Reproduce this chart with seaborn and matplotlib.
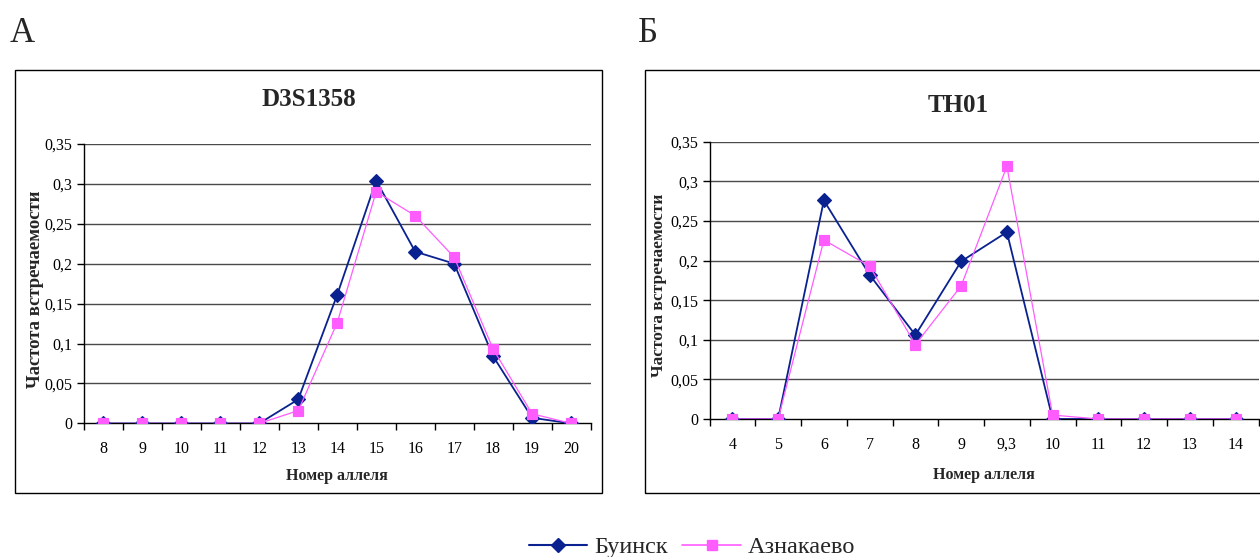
import numpy as np
import pandas as pd
import matplotlib
matplotlib.use("Agg")
import matplotlib.pyplot as plt
from matplotlib.patches import Rectangle
from matplotlib.lines import Line2D
from matplotlib.ticker import FixedLocator, FuncFormatter
import seaborn as sns

# ---- data ----
series_names = ["Буинск", "Азнакаево"]

d3_alleles = ["8", "9", "10", "11", "12", "13", "14", "15", "16", "17", "18", "19", "20"]
d3_buinsk = [0, 0, 0, 0, 0, 0.030, 0.161, 0.304, 0.215, 0.200, 0.084, 0.007, 0]
d3_aznak = [0, 0, 0, 0, 0, 0.016, 0.126, 0.290, 0.260, 0.208, 0.093, 0.012, 0]

th_alleles = ["4", "5", "6", "7", "8", "9", "9,3", "10", "11", "12", "13", "14"]
th_buinsk = [0, 0, 0.276, 0.182, 0.106, 0.199, 0.236, 0, 0, 0, 0, 0]
th_aznak = [0, 0, 0.226, 0.193, 0.094, 0.168, 0.319, 0.005, 0, 0, 0, 0]

titles = ["D3S1358", "TH01"]
panel_labels = ["А", "Б"]
ylabel_text = "Частота встречаемости"
xlabel_text = "Номер аллеля"
yticks = [0, 0.05, 0.1, 0.15, 0.2, 0.25, 0.3, 0.35]

colors = {"Буинск": "#0A2190", "Азнакаево": "#FF5CFF"}

sns.set_theme(style="white")
plt.rcParams["font.family"] = ["Liberation Serif", "DejaVu Serif"]

W, H = 1260, 557
fig = plt.figure(figsize=(W / 100, H / 100), dpi=100)

def fx(px):
    return px / W

def fy(py):
    return 1 - py / H

# frames
for (x0, x1) in [(15, 602), (645, 1272)]:
    fig.patches.append(Rectangle((fx(x0), fy(493)), fx(x1 - x0), (493 - 70) / H,
                                 transform=fig.transFigure, fill=False,
                                 edgecolor="black", linewidth=1.0, zorder=0))

axes_px = [(83.8, 590.6, 143.8, 423.4), (709.5, 1258.5, 141.8, 419.0)]
frame_centers = [308.5, 958]
title_y = [100, 106]
panel_x = [10, 638]
ylabel_sizes = [13.5, 12.5]

datasets = [(d3_alleles, d3_buinsk, d3_aznak), (th_alleles, th_buinsk, th_aznak)]

for i, ((alle, b, a), (l, r, t, bt)) in enumerate(zip(datasets, axes_px)):
    ax = fig.add_axes([fx(l), fy(bt), (r - l) / W, (bt - t) / H])
    df = pd.DataFrame({
        "allele": alle * 2,
        "freq": b + a,
        "pop": [series_names[0]] * len(alle) + [series_names[1]] * len(alle),
    })
    sns.pointplot(data=df, x="allele", y="freq", hue="pop", order=alle,
                  hue_order=series_names, palette=colors,
                  markers=["D", "s"], linestyles=["-", "-"],
                  errorbar=None, dodge=False, ax=ax,
                  markersize=6, linewidth=1.1)
    for ln in ax.lines:
        c = matplotlib.colors.to_hex(ln.get_color()).lower()
        if c == colors["Азнакаево"].lower():
            ln.set_linewidth(0.9)
            ln.set_markersize(6.6)
            ln.set_zorder(4)
        else:
            ln.set_linewidth(1.3)
            ln.set_markersize(6.8)
            ln.set_zorder(3)
    if ax.get_legend() is not None:
        ax.get_legend().remove()
    n = len(alle)
    ax.set_xlim(-0.5, n - 0.5)
    ax.set_ylim(0, 0.35)
    ax.set_yticks(yticks)
    ax.yaxis.set_major_formatter(FuncFormatter(lambda v, p: ("%g" % round(v, 2)).replace(".", ",")))
    ax.grid(False)
    for yv in yticks[1:]:
        ax.axhline(yv, color="#4a4a4a", linewidth=1.0, zorder=1)
    ax.xaxis.set_minor_locator(FixedLocator(np.arange(-0.5, n, 1.0)))
    ax.tick_params(axis="x", which="major", length=0, labelsize=11.5, pad=13, colors="black")
    ax.tick_params(axis="x", which="minor", length=5, width=1, direction="out", bottom=True, color="black")
    ax.tick_params(axis="y", which="major", length=5, width=1, direction="out", left=True,
                   labelsize=11.5, pad=3, colors="black")
    for s in ["top", "right"]:
        ax.spines[s].set_visible(False)
    for s in ["left", "bottom"]:
        ax.spines[s].set_color("black")
        ax.spines[s].set_linewidth(1.0)
    ax.set_facecolor("none")
    ax.set_xlabel(xlabel_text, fontsize=11.5, fontweight="bold")
    ax.set_ylabel(ylabel_text, fontsize=ylabel_sizes[i], fontweight="bold")
    h = bt - t
    w = r - l
    lx = [35.6, 659][i]
    ly = [289.5, 285][i]
    ax.yaxis.set_label_coords((lx - l) / w, (bt - ly) / h)
    ax.xaxis.set_label_coords(0.5, (bt - [476, 475][i]) / h)
    ax.xaxis.label.set_va("center")
    ax.yaxis.label.set_va("center")
    fig.text(fx(frame_centers[i]), fy(title_y[i]), titles[i], ha="center", va="center",
             fontsize=18, fontweight="bold")
    fig.text(fx(panel_x[i]), fy(33), panel_labels[i], ha="left", va="center", fontsize=25)

# legend
handles = [Line2D([], [], color=colors["Буинск"], marker="D", markersize=7, linewidth=1.5),
           Line2D([], [], color=colors["Азнакаево"], marker="s", markersize=7, linewidth=1.2)]
fig.legend(handles, series_names, loc="center", bbox_to_anchor=(fx(692), fy(547)),
           ncol=2, frameon=False, fontsize=17.5, handlelength=2.4, handletextpad=0.3,
           columnspacing=0.6, borderpad=0)

fig.savefig("out.png", dpi=100)
